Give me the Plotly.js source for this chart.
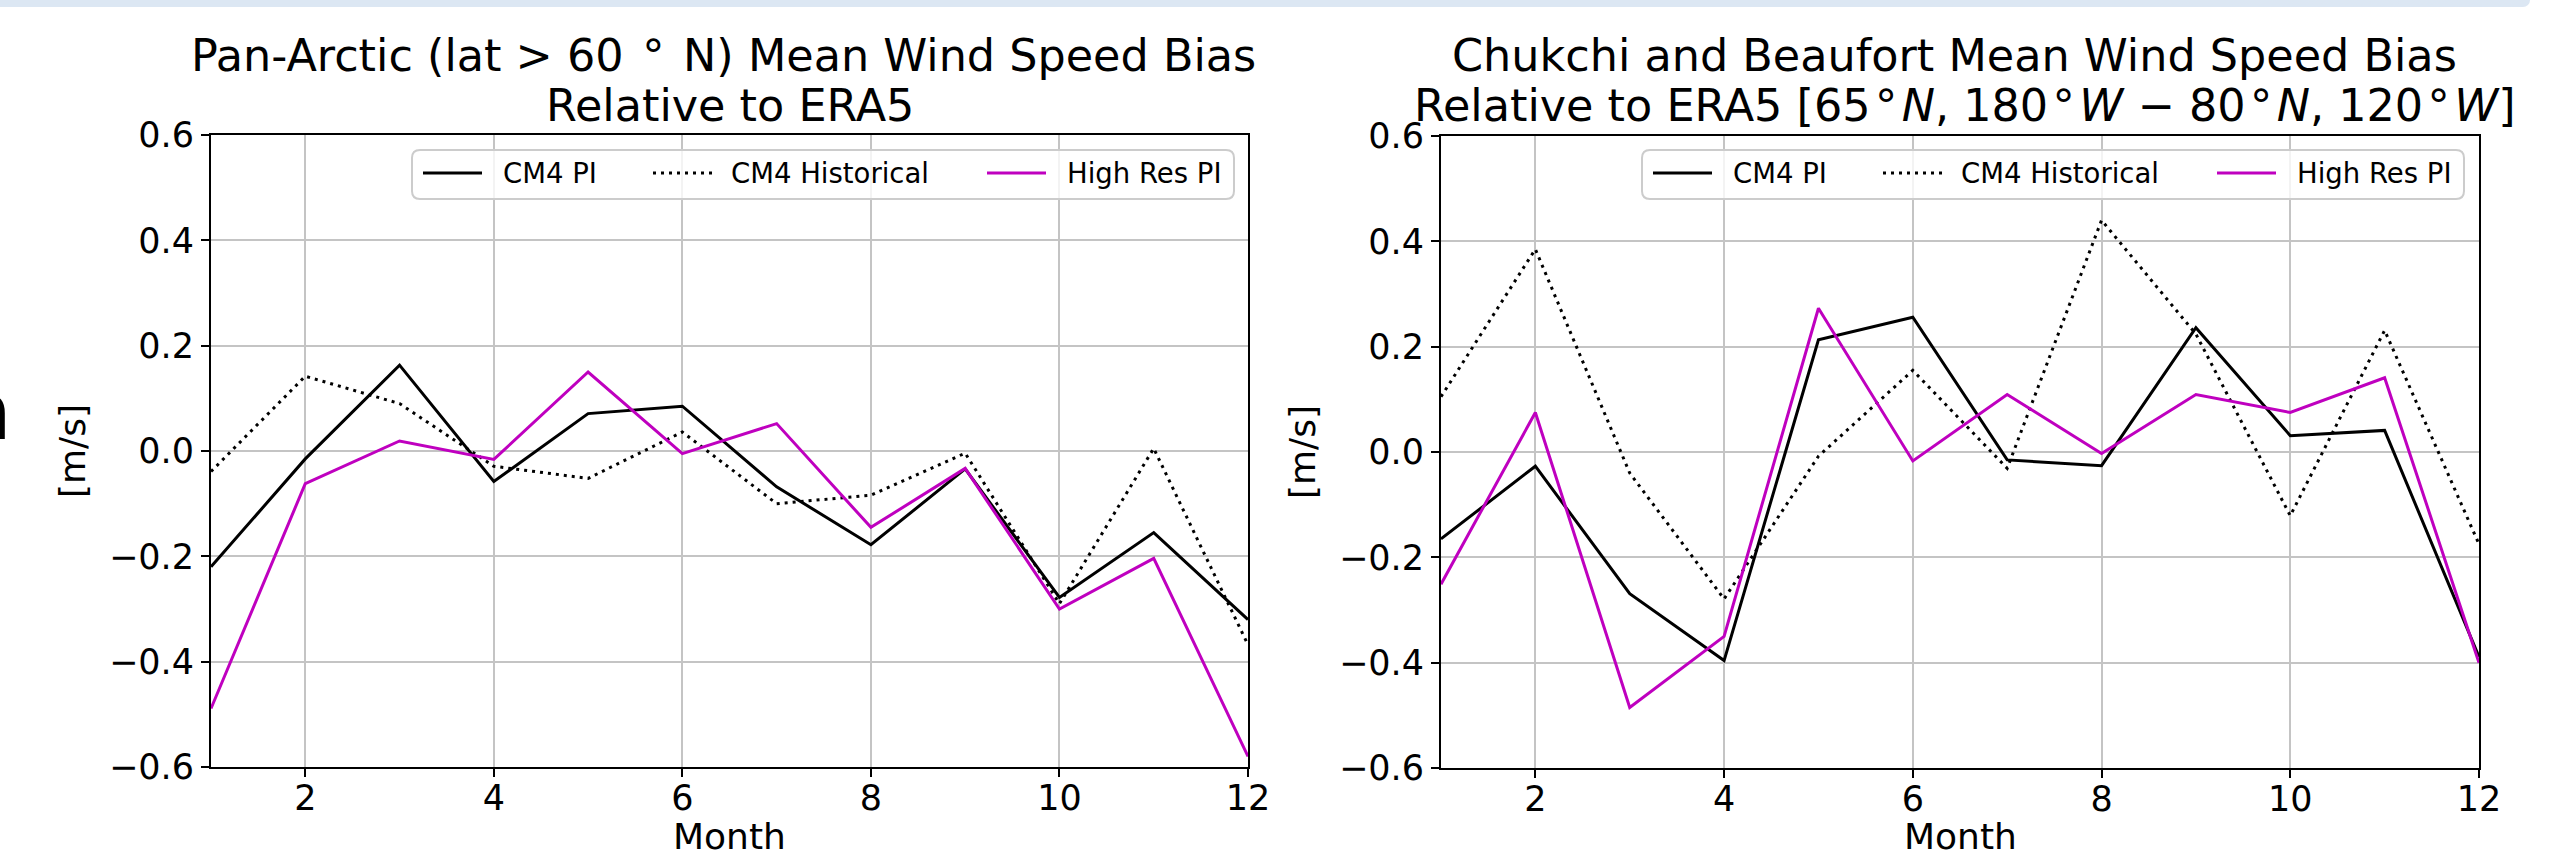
<!DOCTYPE html>
<html>
<head>
<meta charset="utf-8">
<script src="https://cdn.plot.ly/plotly-3.0.1.min.js"></script>
<style>
  html, body { margin: 0; padding: 0; background: #ffffff; overflow: hidden; }
  #band { position: absolute; left: 0; top: 0; width: 2530px; height: 7px; background: #dce7f3; border-bottom-right-radius: 8px; z-index: 5; }
  #chart { position: absolute; left: 0; top: 0; width: 2566px; height: 858px; }
</style>
</head>
<body>
<div id="band"></div>
<div id="chart"></div>
<script>
// ---- data ----
const months = [1, 2, 3, 4, 5, 6, 7, 8, 9, 10, 11, 12];

// Pan-Arctic (lat > 60 N)
const panCM4PI   = [-0.22, -0.015, 0.163, -0.058, 0.071, 0.085, -0.068, -0.178, -0.034, -0.278, -0.155, -0.32];
const panCM4Hist = [-0.039, 0.142, 0.09, -0.029, -0.052, 0.036, -0.10, -0.084, -0.004, -0.29, 0.005, -0.368];
const panHighRes = [-0.489, -0.062, 0.019, -0.016, 0.15, -0.005, 0.052, -0.145, -0.033, -0.30, -0.204, -0.58];

// Chukchi and Beaufort
const cbCM4PI   = [-0.165, -0.027, -0.269, -0.396, 0.213, 0.256, -0.015, -0.026, 0.236, 0.031, 0.041, -0.389];
const cbCM4Hist = [0.105, 0.385, -0.04, -0.279, -0.008, 0.155, -0.031, 0.44, 0.224, -0.121, 0.231, -0.175];
const cbHighRes = [-0.251, 0.075, -0.485, -0.35, 0.273, -0.017, 0.109, -0.003, 0.109, 0.075, 0.141, -0.40];

const seriesNames = ['CM4 PI', 'CM4 Historical', 'High Res PI'];
const xTicks = [2, 4, 6, 8, 10, 12];
const yTicks = [-0.6, -0.4, -0.2, 0.0, 0.2, 0.4, 0.6];

const HS = '\u200A'; // hair space, mimics mathtext spacing around the degree ring
const DEG = HS + '°' + HS;
const leftTitle1  = 'Pan-Arctic (lat > 60 ' + DEG + ' N) Mean Wind Speed Bias';
const leftTitle2  = 'Relative to ERA5';
const rightTitle1 = 'Chukchi and Beaufort Mean Wind Speed Bias';
const rightTitle2 = 'Relative to ERA5 [65' + DEG + '<i>N</i>, 180' + DEG + '<i>W</i> − 80' + DEG + '<i>N</i>, 120' + DEG + '<i>W</i>]';
const xLabel = 'Month';
const yLabel = '[m/s]';

// ---- styling / layout ----
const W = 2566, H = 858;
const FONT = 'DejaVu Sans';
const px = v => v / W;
const py = v => 1 - v / H;

const styles = [
  { color: '#000000', width: 3, dash: 'solid' },
  { color: '#000000', width: 3, dash: '3px,5px' },
  { color: '#bf00bf', width: 3, dash: 'solid' }
];

function mk(y, i, xa, ya) {
  return {
    x: months, y: y, type: 'scatter', mode: 'lines',
    name: seriesNames[i], line: styles[i],
    xaxis: xa, yaxis: ya, showlegend: false
  };
}

const traces = [
  mk(panCM4PI, 0, 'x', 'y'),
  mk(panCM4Hist, 1, 'x', 'y'),
  mk(panHighRes, 2, 'x', 'y'),
  mk(cbCM4PI, 0, 'x2', 'y2'),
  mk(cbCM4Hist, 1, 'x2', 'y2'),
  mk(cbHighRes, 2, 'x2', 'y2')
];

function xAxis(d0, d1, anchor) {
  return {
    domain: [px(d0), px(d1)], anchor: anchor, range: [1, 12],
    tickmode: 'array', tickvals: xTicks, ticktext: xTicks.map(String),
    ticks: 'outside', ticklen: 8, tickwidth: 2, tickcolor: '#000',
    ticklabelstandoff: -9,
    showline: true, linecolor: '#000', linewidth: 2, mirror: true,
    showgrid: true, gridcolor: '#c4c4c4', gridwidth: 2, zeroline: false,
    tickfont: { family: FONT, size: 35, color: '#000' }
  };
}
function yAxis(d0, d1, anchor) {
  return {
    domain: [py(d1), py(d0)], anchor: anchor, range: [-0.6, 0.6],
    tickmode: 'array', tickvals: yTicks, ticktext: yTicks.map(v => (v < 0 ? '\u2212' : '') + Math.abs(v).toFixed(1)),
    ticks: 'outside', ticklen: 8, tickwidth: 2, tickcolor: '#000',
    showline: true, linecolor: '#000', linewidth: 2, mirror: true,
    showgrid: true, gridcolor: '#c4c4c4', gridwidth: 2, zeroline: false,
    tickfont: { family: FONT, size: 35, color: '#000' },
    title: { text: yLabel, font: { family: FONT, size: 36, color: '#000' }, standoff: 12 }
  };
}

// ---- hand-built matplotlib-style legend (frame, handles, labels) ----
const LEG = { x0: 412, x1: 1234, y0: 150, y1: 199, r: 8, yc: 173,
              handles: [[423, 482], [653, 712], [987, 1046]], texts: [503, 731, 1067] };
function legendParts(dx) {
  const shapes = [], anns = [];
  const x0 = LEG.x0 + dx, x1 = LEG.x1 + dx, y0 = LEG.y0, y1 = LEG.y1, r = LEG.r;
  const X = v => px(v).toFixed(6), Y = v => py(v).toFixed(6);
  const path = 'M' + X(x0 + r) + ',' + Y(y0) + ' L' + X(x1 - r) + ',' + Y(y0) +
    ' Q' + X(x1) + ',' + Y(y0) + ' ' + X(x1) + ',' + Y(y0 + r) +
    ' L' + X(x1) + ',' + Y(y1 - r) + ' Q' + X(x1) + ',' + Y(y1) + ' ' + X(x1 - r) + ',' + Y(y1) +
    ' L' + X(x0 + r) + ',' + Y(y1) + ' Q' + X(x0) + ',' + Y(y1) + ' ' + X(x0) + ',' + Y(y1 - r) +
    ' L' + X(x0) + ',' + Y(y0 + r) + ' Q' + X(x0) + ',' + Y(y0) + ' ' + X(x0 + r) + ',' + Y(y0) + ' Z';
  shapes.push({ type: 'path', xref: 'paper', yref: 'paper', path: path, layer: 'above',
                fillcolor: 'rgba(255,255,255,0.8)', line: { color: '#cccccc', width: 2 } });
  for (let i = 0; i < 3; i++) {
    shapes.push({ type: 'line', xref: 'paper', yref: 'paper', layer: 'above',
      x0: px(LEG.handles[i][0] + dx), x1: px(LEG.handles[i][1] + dx), y0: py(LEG.yc), y1: py(LEG.yc),
      line: { color: styles[i].color, width: styles[i].width, dash: styles[i].dash } });
    anns.push({ text: seriesNames[i], xref: 'paper', yref: 'paper',
      x: px(LEG.texts[i] + dx - 2), y: py(LEG.yc), xanchor: 'left', yanchor: 'middle', showarrow: false,
      font: { family: FONT, size: 27.5, color: '#000' } });
  }
  return { shapes, anns };
}
const legL = legendParts(0), legR = legendParts(1230);

function titleAnn(text, xc, baseline) {
  return {
    text: text, xref: 'paper', yref: 'paper', x: px(xc), y: py(baseline + 11),
    xanchor: 'center', yanchor: 'bottom', showarrow: false,
    font: { family: FONT, size: 44.5, color: '#000' }
  };
}
function xLabelAnn(xc) {
  return {
    text: xLabel, xref: 'paper', yref: 'paper', x: px(xc), y: py(836),
    xanchor: 'center', yanchor: 'middle', showarrow: false,
    font: { family: FONT, size: 36, color: '#000' }
  };
}

const layout = {
  width: W, height: H,
  margin: { l: 0, r: 0, t: 0, b: 0 },
  paper_bgcolor: '#ffffff', plot_bgcolor: '#ffffff',
  font: { family: FONT, color: '#000' },
  showlegend: false,
  xaxis: xAxis(211, 1248, 'y'),
  yaxis: yAxis(135, 767, 'x'),
  xaxis2: xAxis(1441, 2479, 'y2'),
  yaxis2: yAxis(136, 768, 'x2'),
  shapes: legL.shapes.concat(legR.shapes),
  annotations: [
    titleAnn(leftTitle1, 723, 72),
    titleAnn(leftTitle2, 729.5, 122),
    titleAnn(rightTitle1, 1954, 72),
    titleAnn(rightTitle2, 1965, 122),
    xLabelAnn(729.5),
    xLabelAnn(1960),
    { text: 'n', xref: 'paper', yref: 'paper', x: px(12.6), y: py(459), xanchor: 'right', yanchor: 'bottom',
      showarrow: false, font: { family: FONT, size: 78, color: '#000' } }
  ].concat(legL.anns, legR.anns)
};

Plotly.newPlot('chart', traces, layout, { displayModeBar: false, responsive: false, staticPlot: true });
</script>
</body>
</html>
